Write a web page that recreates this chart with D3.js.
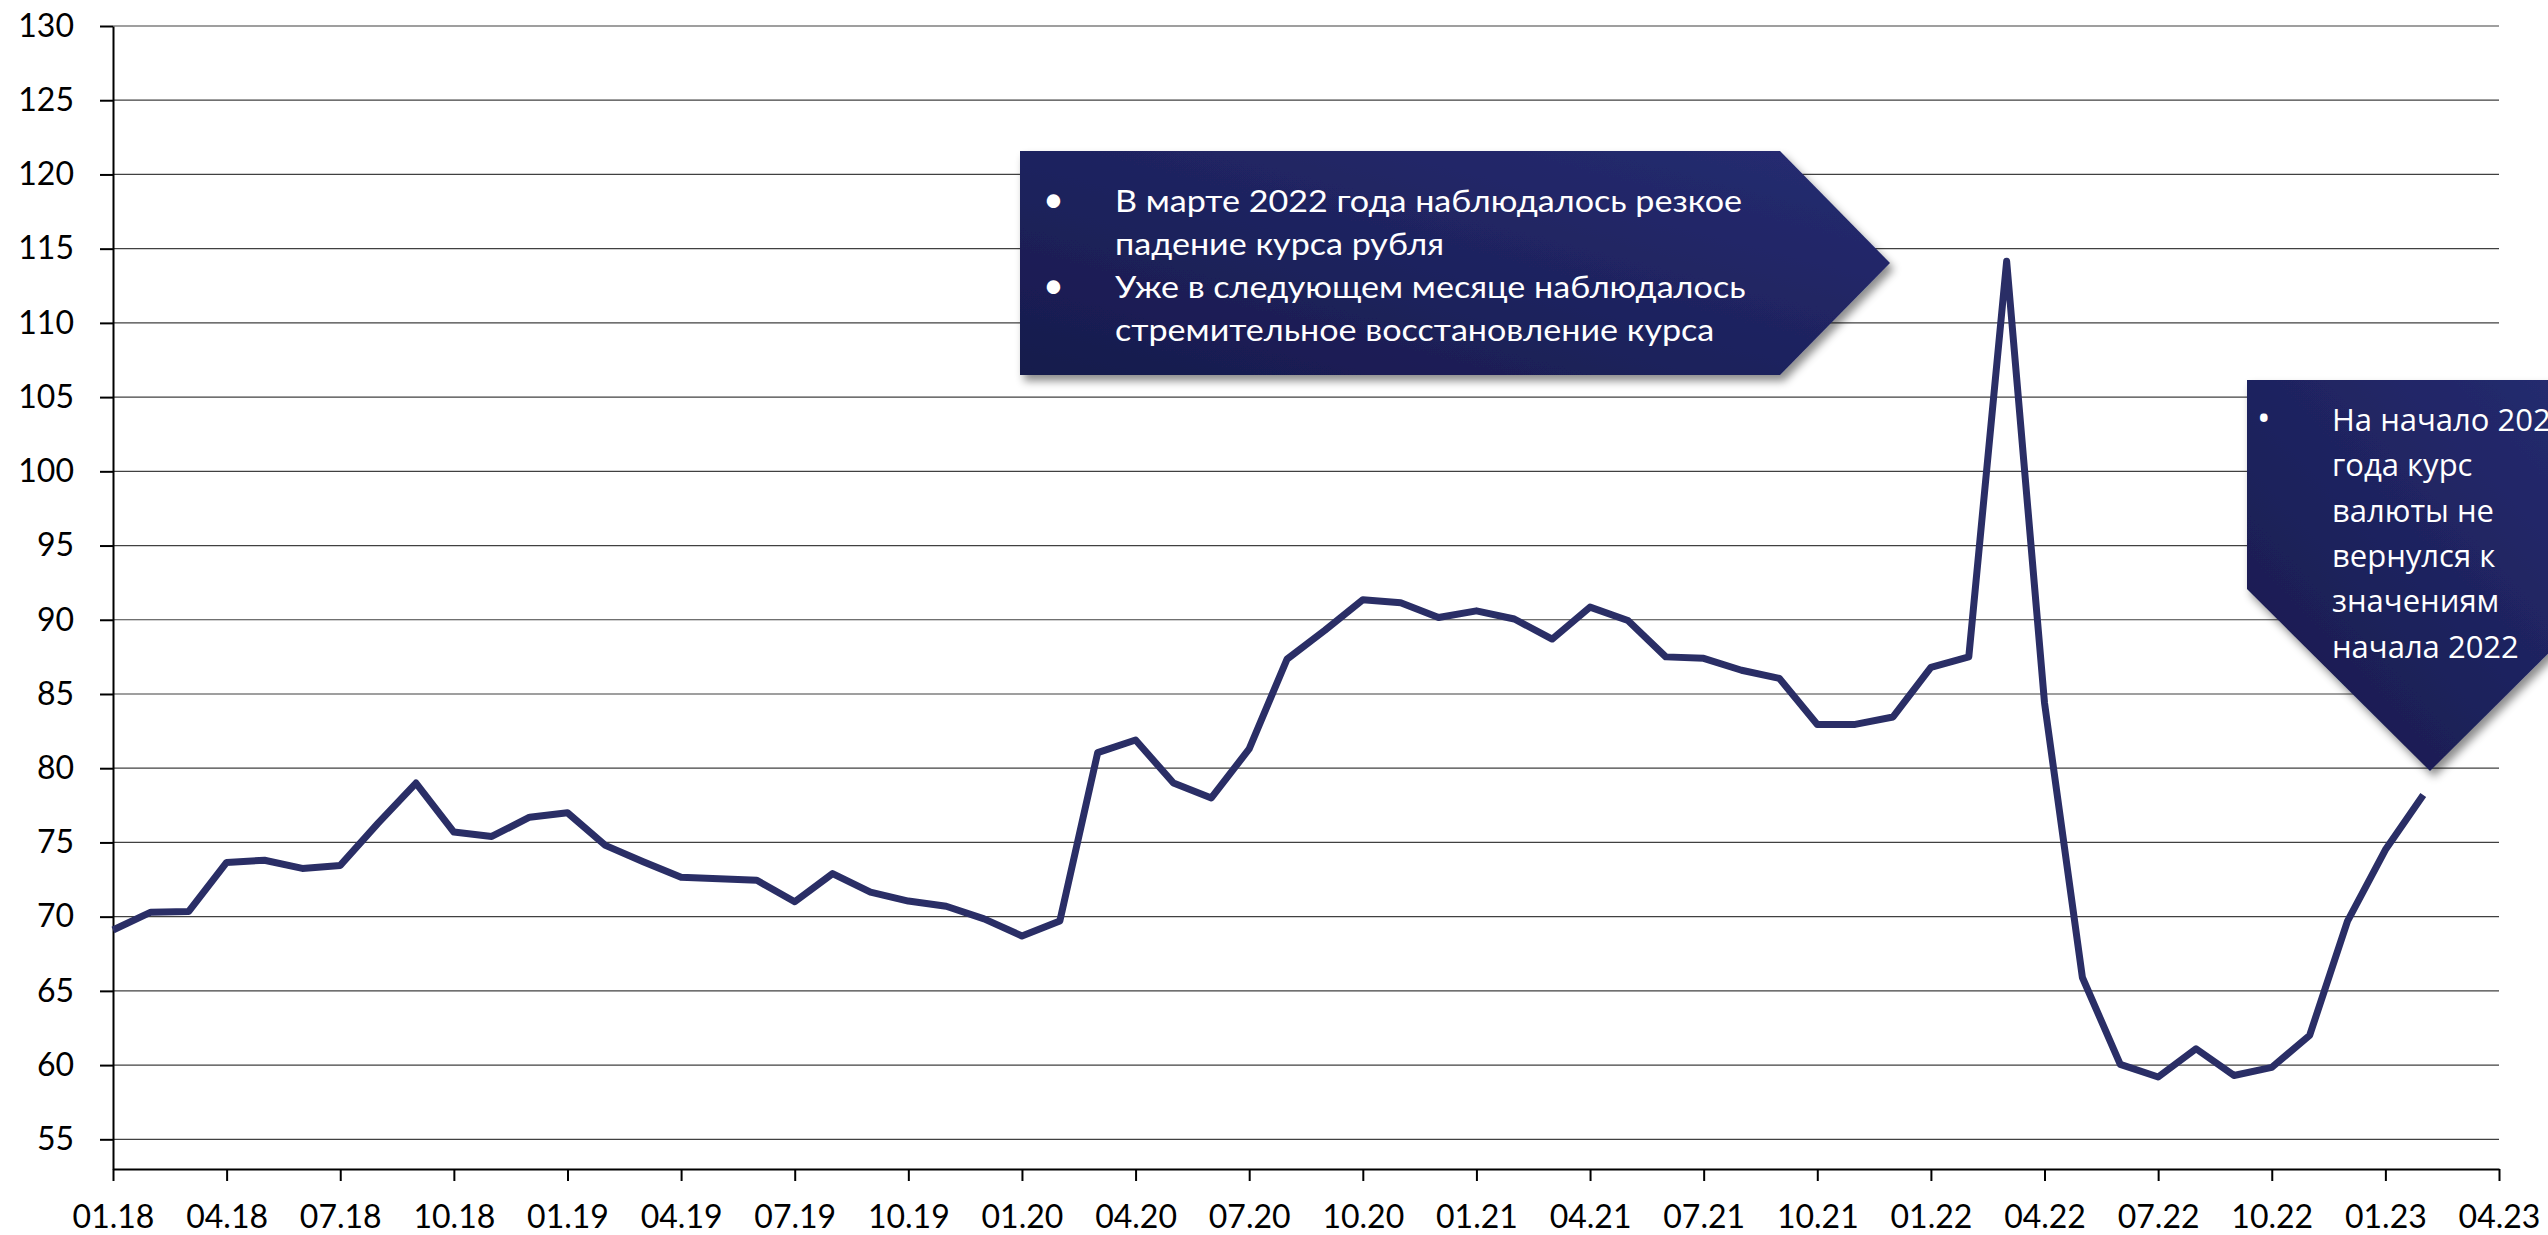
<!DOCTYPE html>
<html>
<head>
<meta charset="utf-8">
<script src="https://cdn.jsdelivr.net/npm/d3@7"></script>
<style>
  body { margin: 0; background: #fff; }
  svg { display: block; }
</style>
</head>
<body>
<svg width="2548" height="1235"></svg>
<script>
// monthly rate, 01.18 .. 02.23
var values = [69.1, 70.3, 70.35, 73.65, 73.8, 73.25, 73.45, 76.3, 79.0, 75.7, 75.4, 76.7,
              77.0, 74.8, 73.7, 72.65, 72.55, 72.45, 71.0, 72.9, 71.65, 71.05, 70.7, 69.85,
              68.7, 69.7, 81.05, 81.9, 79.0, 78.0, 81.3, 87.35, 89.3, 91.35, 91.15, 90.15,
              90.6, 90.05, 88.7, 90.85, 89.95, 87.5, 87.4, 86.6, 86.05, 82.95, 82.95, 83.45,
              86.8, 87.5, 114.15, 84.4, 65.9, 60.05, 59.2, 61.1, 59.3, 59.85, 62.0, 69.7,
              74.5, 78.2];

var xTickLabels = ["01.18", "04.18", "07.18", "10.18", "01.19", "04.19", "07.19", "10.19",
                   "01.20", "04.20", "07.20", "10.20", "01.21", "04.21", "07.21", "10.21",
                   "01.22", "04.22", "07.22", "10.22", "01.23", "04.23"];

var yTicks = [55, 60, 65, 70, 75, 80, 85, 90, 95, 100, 105, 110, 115, 120, 125, 130];

var note1 = ["В марте 2022 года наблюдалось резкое", "падение курса рубля",
             "Уже в следующем месяце наблюдалось", "стремительное восстановление курса"];
var note2 = ["На начало 2023", "года курс", "валюты не", "вернулся к", "значениям", "начала 2022"];

var svg = d3.select("svg"),
    plotLeft = 113, plotRight = 2499, plotTop = 26, plotBottom = 1169;

var xScale = d3.scaleLinear().domain([0, 63]).range([plotLeft, plotRight]),
    yScale = d3.scaleLinear().domain([53, 130]).range([plotBottom, plotTop]);

var defs = svg.append("defs");

var grad = defs.append("linearGradient")
    .attr("id", "boxFill")
    .attr("x1", "0").attr("y1", "1").attr("x2", "1").attr("y2", "0");
grad.append("stop").attr("offset", "0%").attr("stop-color", "#171a4c");
grad.append("stop").attr("offset", "100%").attr("stop-color", "#262c72");

var shadow = defs.append("filter").attr("id", "shadow")
    .attr("x", "-10%").attr("y", "-10%").attr("width", "130%").attr("height", "130%");
shadow.append("feDropShadow")
    .attr("dx", 4).attr("dy", 6).attr("stdDeviation", 4)
    .attr("flood-color", "#000").attr("flood-opacity", 0.45);

// gridlines
svg.append("g")
    .selectAll("line")
    .data(yTicks)
    .enter().append("line")
    .attr("x1", plotLeft)
    .attr("x2", plotRight)
    .attr("y1", d => yScale(d))
    .attr("y2", d => yScale(d))
    .attr("stroke", "#404040")
    .attr("stroke-width", 1.2);

// y axis
var yAxis = svg.append("g")
    .attr("transform", "translate(" + plotLeft + ",0)")
    .call(d3.axisLeft(yScale).tickValues(yTicks).tickSize(13).tickSizeOuter(0).tickPadding(26));

// x axis
var xAxis = svg.append("g")
    .attr("transform", "translate(0," + plotBottom + ")")
    .call(d3.axisBottom(xScale)
        .tickValues(d3.range(xTickLabels.length).map(i => i * 3))
        .tickFormat((d, i) => xTickLabels[i])
        .tickSize(12).tickSizeOuter(0).tickPadding(24));

[yAxis, xAxis].forEach(function(a) {
    a.selectAll("path, line").attr("stroke", "#000").attr("stroke-width", 2);
    a.selectAll("text")
        .attr("fill", "#000")
        .style("font-family", "Lato, sans-serif")
        .style("font-size", "32px");
});

// the series
var line = d3.line()
    .x((d, i) => xScale(i))
    .y(d => yScale(d));

svg.append("path")
    .datum(values)
    .attr("d", line)
    .attr("fill", "none")
    .attr("stroke", "#2a2e66")
    .attr("stroke-width", 7)
    .attr("stroke-linejoin", "round");

// callout 1, arrow to the right
svg.append("polygon")
    .attr("points", "1020,151 1780,151 1890,263 1780,375 1020,375")
    .attr("fill", "url(#boxFill)")
    .attr("filter", "url(#shadow)");

var t1 = svg.append("g")
    .style("font-family", "Lato, sans-serif")
    .style("font-size", "31px")
    .attr("fill", "#fff");

note1.forEach(function(s, i) {
    var y = 212 + i * 43;
    if (i == 0 || i == 2) {
        t1.append("text").attr("x", 1043).attr("y", y).style("font-size", "36px").text("•");
    }
    // the original font is narrower and taller, so stretch a bit
    t1.append("text")
        .attr("transform", "translate(1115," + y + ") scale(1.1,1)")
        .text(s);
});

// callout 2, arrow pointing down
svg.append("polygon")
    .attr("points", "2247,380 2613,380 2613,589 2430,771 2247,589")
    .attr("fill", "url(#boxFill)")
    .attr("filter", "url(#shadow)");

var t2 = svg.append("g")
    .style("font-family", "'Open Sans', sans-serif")
    .style("font-size", "31px")
    .attr("fill", "#fff");

note2.forEach(function(s, i) {
    var y = 431 + i * 45.3;
    if (i == 0) {
        t2.append("text").attr("x", 2257).attr("y", y).style("font-size", "36px").text("•");
    }
    t2.append("text").attr("x", 2332).attr("y", y).text(s);
});
</script>
</body>
</html>
